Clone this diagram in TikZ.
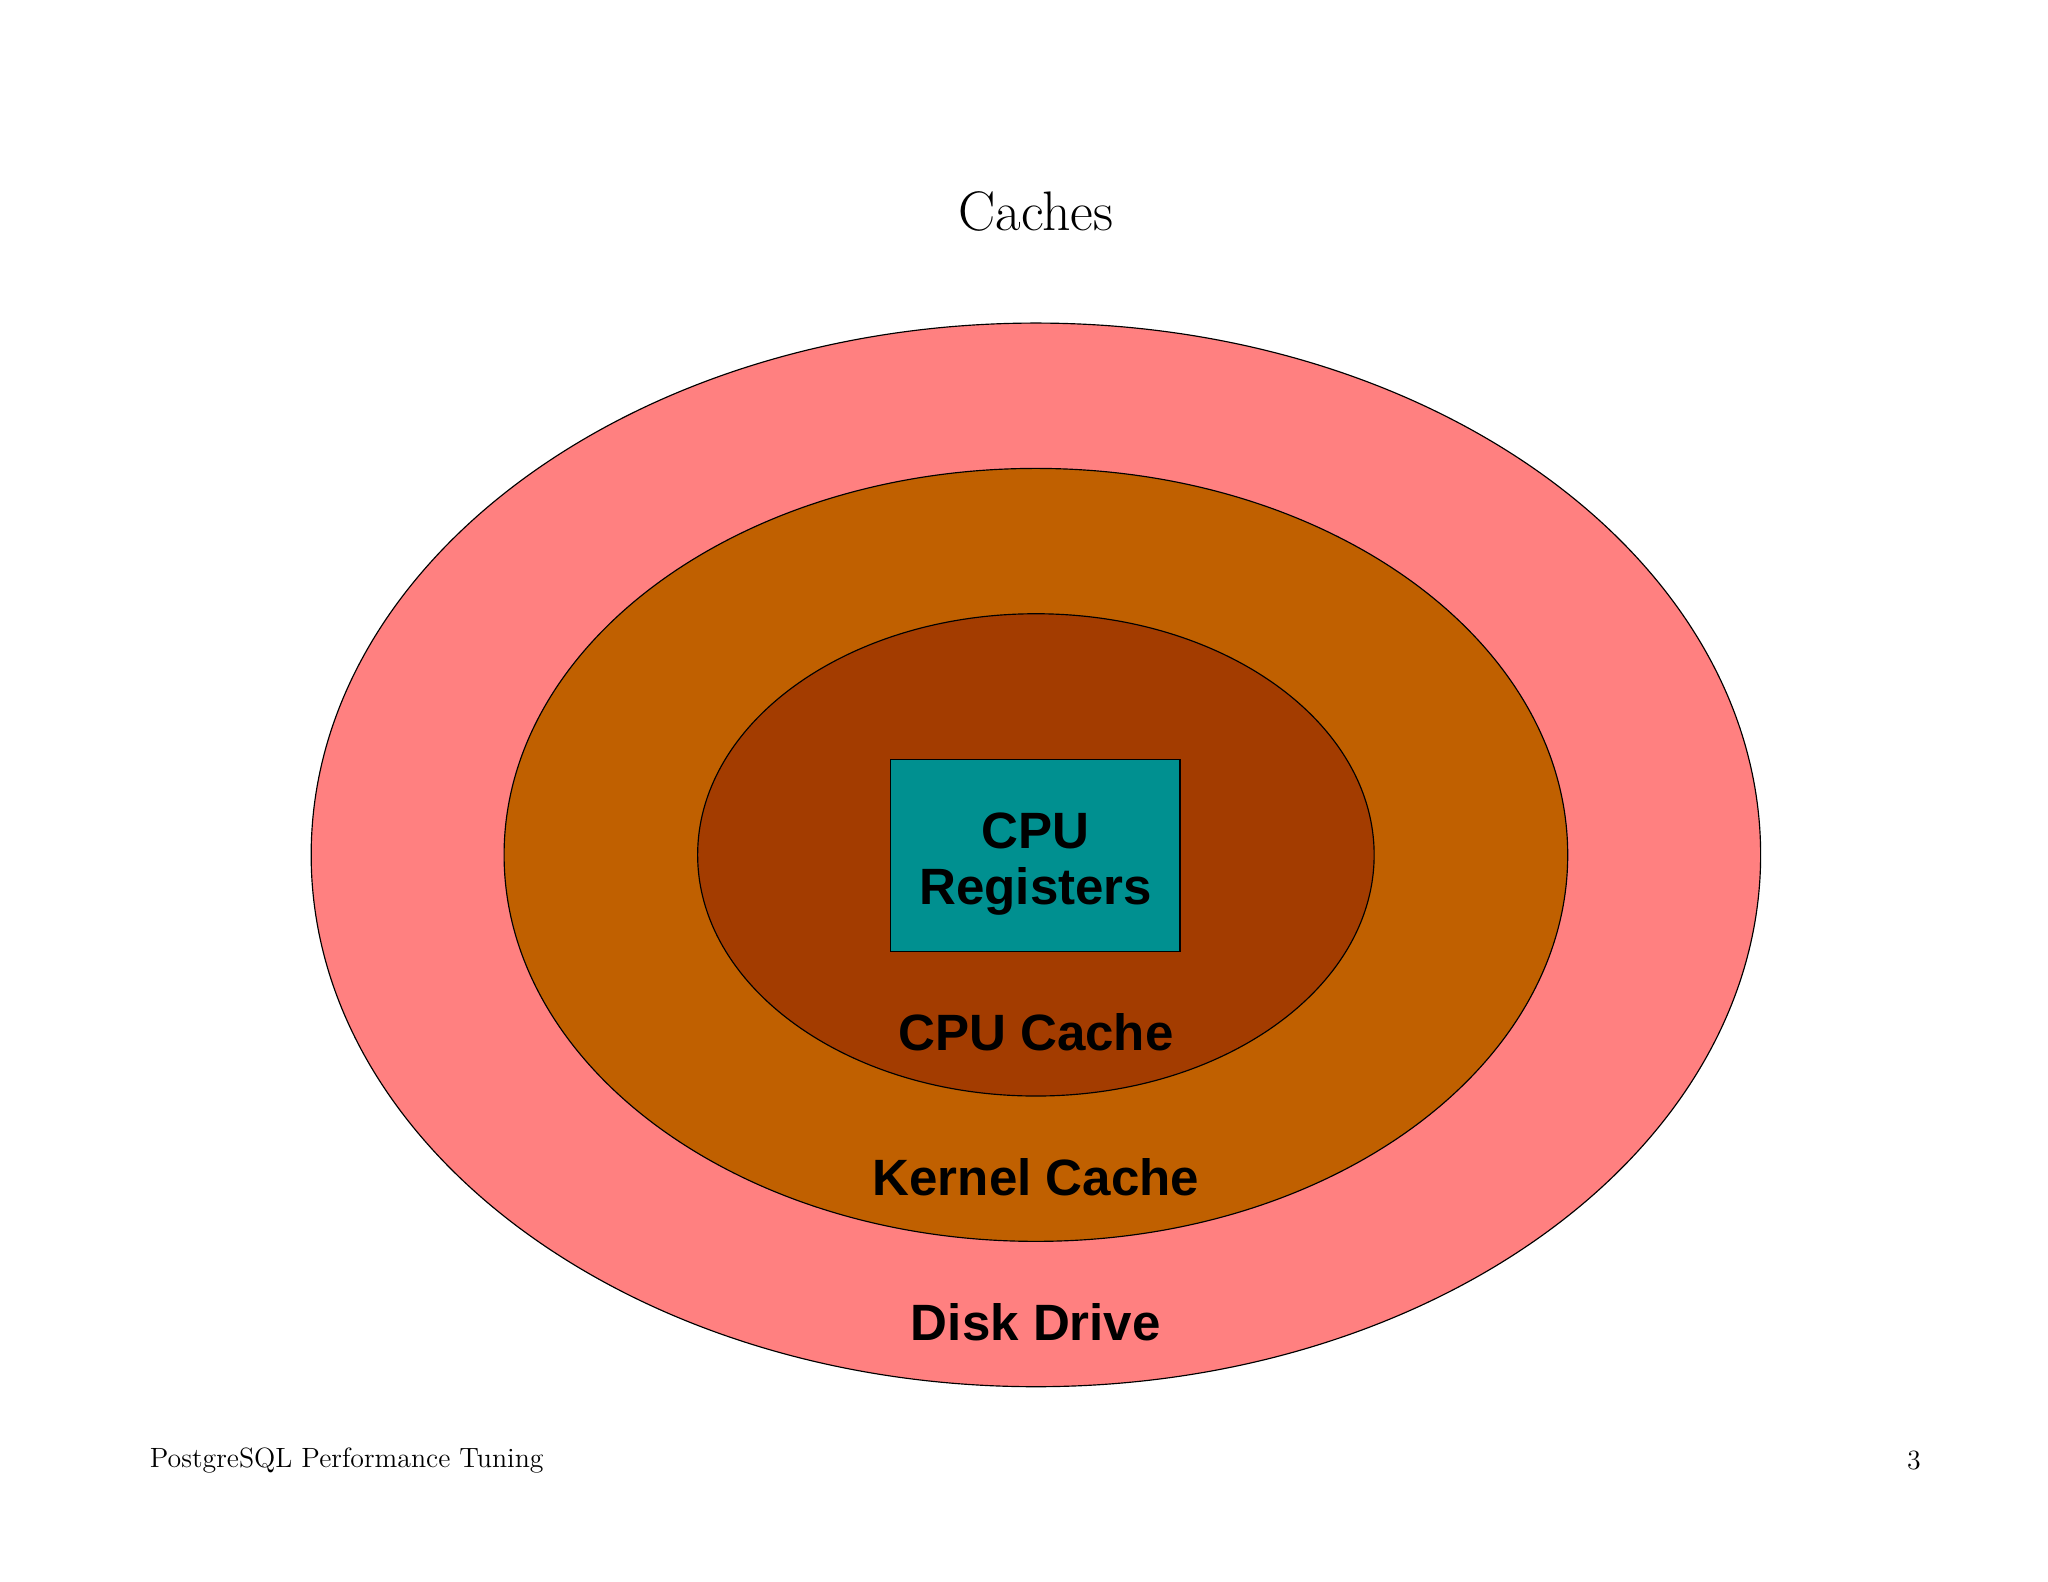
\documentclass[tikz,border=0pt]{standalone}
\usepackage{fontspec}
\usetikzlibrary{shapes.geometric}
\setmainfont{Latin Modern Roman}
\newfontfamily\lab{Liberation Sans}
\definecolor{disk}{HTML}{FF8080}
\definecolor{kern}{HTML}{C06000}
\definecolor{cpuc}{HTML}{A33C00}
\definecolor{reg}{HTML}{009090}
\begin{document}
\begin{tikzpicture}[x=0.02cm,y=-0.02cm,
  ring/.style={draw=black,line width=0.5pt},
  lbl/.style={font=\lab\bfseries\fontsize{22}{26}\selectfont,align=center,inner sep=0pt}]
\useasboundingbox (0,0) rectangle (1550,1197);
\fill[white] (0,0) rectangle (1550,1197);
\node[ring,fill=disk,ellipse,minimum width=1097*0.02cm,minimum height=805*0.02cm,inner sep=0pt] (disk) at (784,647) {};
\node[ring,fill=kern,ellipse,minimum width=805*0.02cm,minimum height=585*0.02cm,inner sep=0pt] (kern) at (784,647) {};
\node[ring,fill=cpuc,ellipse,minimum width=512*0.02cm,minimum height=365*0.02cm,inner sep=0pt] (cpuc) at (784,647) {};
\node[ring,fill=reg,minimum width=219*0.02cm,minimum height=145*0.02cm,inner sep=0pt] (reg) at (783.5,647.5) {};
\node[lbl] (regt) at (784,654) {CPU\\[-2pt]Registers};
\node[lbl] (cct) at (784,781) {CPU Cache};
\node[lbl] (kct) at (784,891) {Kernel Cache};
\node[lbl] (ddt) at (784,1001) {Disk Drive};
\node[font=\scshape\fontsize{24}{28}\selectfont] (title) at (784,160) {Caches};
\node[font=\scshape\fontsize{12}{14}\selectfont,anchor=west,inner sep=0pt] (foot) at (113,1105) {PostgreSQL Performance Tuning};
\node[font=\fontsize{12}{14}\selectfont,anchor=east,inner sep=0pt] (page) at (1454,1105) {3};
\end{tikzpicture}
\end{document}
